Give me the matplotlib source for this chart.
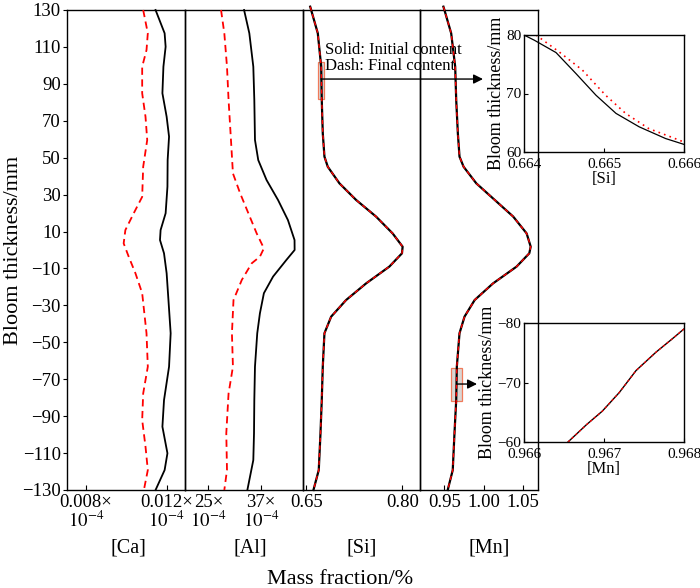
import matplotlib.pyplot as plt
import numpy as np

plt.rcParams['font.family'] = 'Liberation Serif'
plt.rcParams['mathtext.fontset'] = 'stix'
plt.rcParams['axes.linewidth'] = 1.0

# ---- main panels: bloom thickness (mm) vs mass fraction ----
ca_y_init = [130, 117.4, 110.1, 99.3, 84.9, 72.2, 61.4, 48.7, 34.3, 19.9, 10.8, 5.4, -1.8,
             -12.6, -27.1, -45.1, -63.2, -81.3, -95.7, -110.1, -119.2, -130]
ca_init = [0.01145, 0.0119, 0.01195, 0.01184, 0.01179, 0.0120, 0.01212, 0.01205, 0.01204, 0.01195,
           0.0117, 0.01167, 0.01187, 0.0120, 0.01209, 0.0122, 0.01212, 0.01187, 0.01179, 0.01204,
           0.0119, 0.01145]
ca_y_final = [130, 117.4, 108.3, 99.3, 84.9, 72.2, 59.6, 45.1, 28.8, 19.9, 10.8, 3.6, -3.6,
              -12.6, -23.4, -45.1, -63.2, -77.7, -92.1, -106.5, -119.2, -130]
ca_final = [0.010835, 0.011065, 0.0110, 0.010785, 0.010785, 0.01095, 0.011035, 0.010835, 0.010785,
            0.010365, 0.00995, 0.009865, 0.010115, 0.01045, 0.010785, 0.0110, 0.011065, 0.010835,
            0.010785, 0.01095, 0.011065, 0.01087]

al_y_init = [130, 117.4, 99.3, 81.3, 59.6, 48.7, 37.9, 27.1, 16.2, 5.4, 0, -5.4, -14.4, -23.4,
             -34.3, -45.1, -63.2, -81.3, -99.3, -113.8, -130]
al_init = [33.14, 34.34, 35.25, 35.48, 35.63, 36.38, 38.28, 40.9, 43.17, 44.68, 44.7, 42.81, 39.77,
           37.67, 36.76, 36.15, 35.63, 35.48, 35.41, 35.25, 33.89]
al_y_final = [130, 117.4, 99.3, 81.3, 59.6, 41.5, 30.7, 19.9, 9.0, 0.9, -3.6, -7.2, -16.2, -27.1,
              -45.1, -63.2, -77.7, -99.3, -119.2, -130]
al_final = [27.87, 28.62, 29.23, 29.59, 30.14, 30.59, 32.24, 34.12, 36.02, 37.67, 36.76, 34.89,
            32.62, 30.72, 30.36, 30.59, 29.59, 29.07, 29.23, 28.62]

si_y = [131.8, 130, 117.4, 99.3, 81.3, 63.2, 50.6, 45.1, 36.1, 27.1, 18.1, 9.0, 1.8, -1.8, -9.0,
        -18.1, -27.1, -36.1, -45.1, -63.2, -81.3, -99.3, -119.2, -130]
si_init = [0.6558, 0.6573, 0.6677, 0.6730, 0.6739, 0.6755, 0.6781, 0.6833, 0.7016, 0.7277, 0.7589,
           0.7848, 0.8005, 0.7995, 0.7797, 0.7433, 0.7120, 0.6886, 0.6781, 0.6755, 0.6739, 0.6719,
           0.6692, 0.6609]
si_final = si_init

mn_y = si_y
mn_init = [0.9487, 0.9500, 0.9586, 0.9637, 0.9650, 0.9671, 0.9692, 0.9744, 0.9906, 1.0141, 1.0376,
           1.0547, 1.0599, 1.0581, 1.0419, 1.0119, 0.9885, 0.9756, 0.9692, 0.9658, 0.9650, 0.9628,
           0.9606, 0.9542]
mn_final = mn_init

# ---- zoomed insets ----
si_zoom_init_x = [0.66400, 0.66413, 0.66440, 0.66465, 0.66490, 0.66515, 0.66544, 0.66577, 0.66600]
si_zoom_init_y = [80.0, 79.1, 77.0, 73.4, 69.7, 66.6, 64.3, 62.3, 61.3]
si_zoom_final_x = [0.66415, 0.66444, 0.66473, 0.66502, 0.66527, 0.66556, 0.66585, 0.66600]
si_zoom_final_y = [80.0, 77.1, 74.0, 69.7, 66.6, 64.0, 62.5, 61.7]

mn_zoom_x = [0.96655, 0.96678, 0.96698, 0.96719, 0.96740, 0.96765, 0.96785, 0.96800]
mn_zoom_y = [-60.0, -62.9, -65.2, -68.3, -72.0, -75.1, -77.3, -79.0]

panel_names = ['[Ca]', '[Al]', '[Si]', '[Mn]']
panel_xlims = [(0.00705, 0.0129), (19.57, 46.5), (0.64375, 0.8281), (0.9192, 1.0692)]
panel_ticks = [[0.008, 0.012], [25, 37], [0.65, 0.80], [0.95, 1.00, 1.05]]
panel_ticklabels = [['0.008×\n$10^{-4}$', '0.012×\n$10^{-4}$'],
                    ['25×\n$10^{-4}$', '37×\n$10^{-4}$'],
                    ['0.65', '0.80'],
                    ['0.95', '1.00', '1.05']]
series = [(ca_init, ca_y_init, ca_final, ca_y_final),
          (al_init, al_y_init, al_final, al_y_final),
          (si_init, si_y, si_final, si_y),
          (mn_init, mn_y, mn_final, mn_y)]

W, H = 700, 588
fig = plt.figure(figsize=(7, 5.88), dpi=100, facecolor='white')

# insets first (drawn below the main frame)
ins_si = fig.add_axes([524 / W, 1 - 152 / H, 160 / W, 117 / H], facecolor='none')
ins_mn = fig.add_axes([524 / W, 1 - 442 / H, 160 / W, 119 / H], facecolor='none')
for a in (ins_si, ins_mn):
    a.set_zorder(0)
    a.tick_params(direction='in', length=3, labelsize=11)
    a.tick_params(axis='x', pad=4)
    a.tick_params(axis='y', pad=2)
    a.set_ylabel('Bloom thickness/mm', fontsize=13, labelpad=1)

ins_si.plot(si_zoom_init_x, si_zoom_init_y, color='black', lw=0.9)
ins_si.plot(si_zoom_final_x, si_zoom_final_y, color='red', lw=1.2, ls=(0, (1, 2.5)))
ins_si.set_xlim(0.664, 0.666)
ins_si.set_ylim(60, 80)
ins_si.set_xticks([0.664, 0.665, 0.666])
ins_si.set_xticklabels(['0.664', '0.665', '0.666'])
ins_si.set_yticks([60, 70, 80])
ins_si.set_xlabel('[Si]', fontsize=12, labelpad=0)

ins_mn.plot(mn_zoom_x, mn_zoom_y, color='black', lw=1.0)
ins_mn.plot(mn_zoom_x, mn_zoom_y, color='red', lw=0.9, ls=(0, (2, 2)))
ins_mn.set_xlim(0.966, 0.968)
ins_mn.set_ylim(-60, -80)
ins_mn.set_xticks([0.966, 0.967, 0.968])
ins_mn.set_xticklabels(['0.966', '0.967', '0.968'])
ins_mn.set_yticks([-60, -70, -80])
ins_mn.set_xlabel('[Mn]', fontsize=12, labelpad=0)

left, right, bottom, top = 67 / W, 538 / W, 1 - 490 / H, 1 - 10 / H
pw = (right - left) / 4
axes = []
for i in range(4):
    ax = fig.add_axes([left + i * pw, bottom, pw, top - bottom], facecolor='none')
    ax.set_zorder(1)
    xi, yi, xf, yf = series[i]
    if i < 2:
        ax.plot(xi, yi, color='black', lw=1.3, clip_on=False, zorder=3)
        ax.plot(xf, yf, color='red', lw=1.3, ls=(0, (4, 2.5)), clip_on=False, zorder=3)
    else:
        ax.plot(xi, yi, color='black', lw=1.6, clip_on=False, zorder=3)
        ax.plot(xf, yf, color='red', lw=1.0, ls=(0, (3, 2.5)), clip_on=False, zorder=4)
    ax.set_xlim(*panel_xlims[i])
    ax.set_ylim(-130, 130)
    ax.set_xticks(panel_ticks[i])
    ax.set_xticklabels(panel_ticklabels[i])
    ax.tick_params(axis='x', direction='in', length=3.5, width=0.8, pad=3, labelsize=13.5)
    for lbl in ax.get_xticklabels():
        lbl.set_linespacing(0.95)
    if i == 0:
        ax.set_yticks(np.arange(-130, 131, 20))
        ax.tick_params(axis='y', direction='out', length=3, width=0.8, pad=1.5, labelsize=13.5)
    else:
        ax.tick_params(axis='y', left=False, labelleft=False)
    axes.append(ax)

ax_si, ax_mn = axes[2], axes[3]

# highlighted regions and arrows to the insets
ax_si.add_patch(plt.Rectangle((0.6677, 82), 0.0093, 20, facecolor='#d9d5d3',
                              edgecolor='#f07a5a', lw=0.9, zorder=1))
ax_mn.add_patch(plt.Rectangle((0.9586, -82), 0.0141, 18, facecolor='#d9d5d3',
                              edgecolor='#f07a5a', lw=0.9, zorder=1))
ax_si.annotate('', xy=(483 / W, 92.6), xycoords=('figure fraction', 'data'),
               xytext=(0.6725, 92.6), textcoords='data',
               arrowprops=dict(arrowstyle='-|>', color='black', lw=1.0, mutation_scale=14,
                               shrinkA=0, shrinkB=0), zorder=5)
ax_mn.annotate('', xy=(477 / W, -72.6), xycoords=('figure fraction', 'data'),
               xytext=(0.9656, -72.6), textcoords='data',
               arrowprops=dict(arrowstyle='-|>', color='black', lw=1.0, mutation_scale=14,
                               shrinkA=0, shrinkB=0), zorder=5)

ax_si.text(0.6797, 104, 'Solid: Initial content\nDash: Final content', fontsize=12,
           ha='left', va='center', linespacing=1.0, zorder=6)

# panel labels and axis titles
for name, xc in zip(panel_names, [128, 250, 362, 489]):
    fig.text(xc / W, 1 - 548 / H, name, ha='center', va='center', fontsize=14.5)
fig.text(340 / W, 1 - 579 / H, 'Mass fraction/%', ha='center', va='center', fontsize=16)
fig.text(14 / W, 1 - 250 / H, 'Bloom thickness/mm', rotation=90, ha='center', va='center',
         fontsize=16)

fig.savefig('out.png', dpi=100)
